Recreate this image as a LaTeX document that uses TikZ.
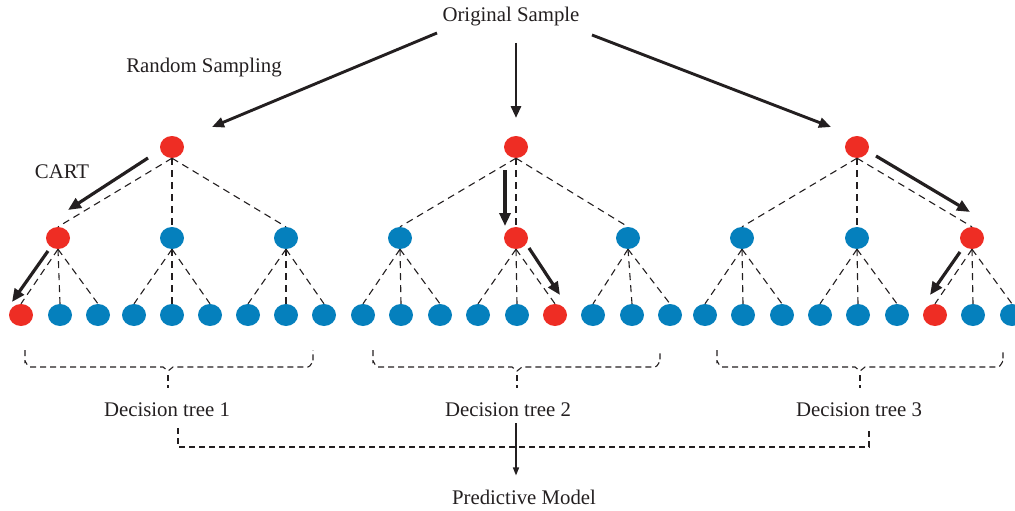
\documentclass[tikz,border=0pt]{standalone}
\usepackage{fontspec}
\setmainfont{Liberation Serif}
\usetikzlibrary{shapes.geometric,arrows.meta,calc}
\definecolor{nred}{RGB}{238,45,36}
\definecolor{nblue}{RGB}{5,128,189}
\definecolor{txt}{RGB}{35,31,32}
\tikzset{
  treenode/.style={ellipse, minimum width=24pt, minimum height=22pt, inner sep=0pt, draw=none},
  rednode/.style={treenode, fill=nred},
  bluenode/.style={treenode, fill=nblue},
  treeedge/.style={line width=1.1pt, dash pattern=on 7pt off 5pt, color=txt},
  boldarrow/.style={line width=3.2pt, color=txt, -{Triangle[length=13pt,width=11pt]}},
  toparrow/.style={line width=2.9pt, color=txt, -{Triangle[length=12pt,width=10pt]}},
  bracestyle/.style={line width=1.1pt, dash pattern=on 6pt off 4pt, color=txt},
  lbl/.style={font=\fontsize{20.8}{24}\selectfont, text=txt, inner sep=0pt},
}
\begin{document}
\begin{tikzpicture}[x=1pt,y=-1pt]
\useasboundingbox (0,0) rectangle (1015,511);

% labels
\node[lbl] (os) at (511,17) {Original Sample};
\node[lbl] (rs) at (204,68) {Random Sampling};
\node[lbl] (cart) at (62,172) {CART};
\node[lbl] (d1) at (167,410) {Decision tree 1};
\node[lbl] (d2) at (508,410) {Decision tree 2};
\node[lbl] (d3) at (859,410) {Decision tree 3};
\node[lbl] (pm) at (524,497) {Predictive Model};

% tree 1
\node[rednode] (r1) at (172,147) {};
\node[rednode] (c1a) at (58,238) {};
\node[bluenode] (c1b) at (172,238) {};
\node[bluenode] (c1c) at (286,238) {};
\foreach \i/\x/\s in {1/21/rednode,2/60/bluenode,3/98/bluenode,4/134/bluenode,5/172/bluenode,6/210/bluenode,7/248/bluenode,8/286/bluenode,9/324/bluenode}
  \node[\s] (l1-\i) at (\x,315) {};

% tree 2
\node[rednode] (r2) at (516,147) {};
\node[bluenode] (c2a) at (400,238) {};
\node[rednode] (c2b) at (516,238) {};
\node[bluenode] (c2c) at (628,238) {};
\foreach \i/\x/\s in {1/363/bluenode,2/401/bluenode,3/440/bluenode,4/478/bluenode,5/517/bluenode,6/555/rednode,7/593/bluenode,8/632/bluenode,9/670/bluenode}
  \node[\s] (l2-\i) at (\x,315) {};

% tree 3
\node[rednode] (r3) at (857,147) {};
\node[bluenode] (c3a) at (742,238) {};
\node[bluenode] (c3b) at (857,238) {};
\node[rednode] (c3c) at (972,238) {};
\foreach \i/\x/\s in {1/705/bluenode,2/743/bluenode,3/782/bluenode,4/820/bluenode,5/858/bluenode,6/897/bluenode,7/935/rednode,8/973/bluenode,9/1012/bluenode}
  \node[\s] (l3-\i) at (\x,315) {};

% dashed tree edges
\foreach \t in {1,2,3} {
  \draw[treeedge] (r\t.south) -- (c\t a.north);
  \draw[treeedge] (r\t.south) -- (c\t b.north);
  \draw[treeedge] (r\t.south) -- (c\t c.north);
  \foreach \c/\a/\b/\d in {a/1/2/3,b/4/5/6,c/7/8/9} {
    \draw[treeedge] (c\t\c.south) -- (l\t-\a.north);
    \draw[treeedge] (c\t\c.south) -- (l\t-\b.north);
    \draw[treeedge] (c\t\c.south) -- (l\t-\d.north);
  }
}

% top arrows
\draw[toparrow] ([shift={(-74,16)}]os.center) -- ([shift={(40,-20)}]r1.center);
\draw[toparrow] ([shift={(5,26)}]os.center) -- ([shift={(0,-29)}]r2.center);
\draw[toparrow] ([shift={(81,18)}]os.center) -- ([shift={(-26,-20)}]r3.center);

% bold path arrows
\draw[boldarrow] ([shift={(-24,11)}]r1.center) -- ([shift={(10,-28)}]c1a.center);
\draw[boldarrow] ([shift={(-10,13)}]c1a.center) -- ([shift={(-9,-13)}]l1-1.center);
\draw[boldarrow] ([shift={(-11,23)}]r2.center) -- ([shift={(-11,-12)}]c2b.center);
\draw[boldarrow] ([shift={(13,10)}]c2b.center) -- ([shift={(5,-20)}]l2-6.center);
\draw[boldarrow] ([shift={(19,9)}]r3.center) -- ([shift={(-2,-26)}]c3c.center);
\draw[boldarrow] ([shift={(-12,14)}]c3c.center) -- ([shift={(-5,-20)}]l3-7.center);

% braces
\foreach \l/\m/\r in {25/168/313, 373/517/660, 717/860/1003} {
  \draw[bracestyle] (\l,350) -- (\l,362) to[out=90,in=180] (\l+5,367) -- (\m-5,367) -- (\m,371) -- (\m+5,367) -- (\r-5,367) to[out=0,in=90] (\r,362) -- (\r,350);
  \draw[bracestyle] (\m,375) -- (\m,388);
}

% bottom bracket
\draw[bracestyle] (178,428) -- (178,447) -- (869,447) -- (869,430);
\draw[line width=1.5pt, color=txt, -{Triangle[length=8pt,width=6pt]}, shorten >=14pt] ([yshift=-6pt]d2.south -| c2b.center) -- (pm.north -| c2b.center);
\end{tikzpicture}
\end{document}
